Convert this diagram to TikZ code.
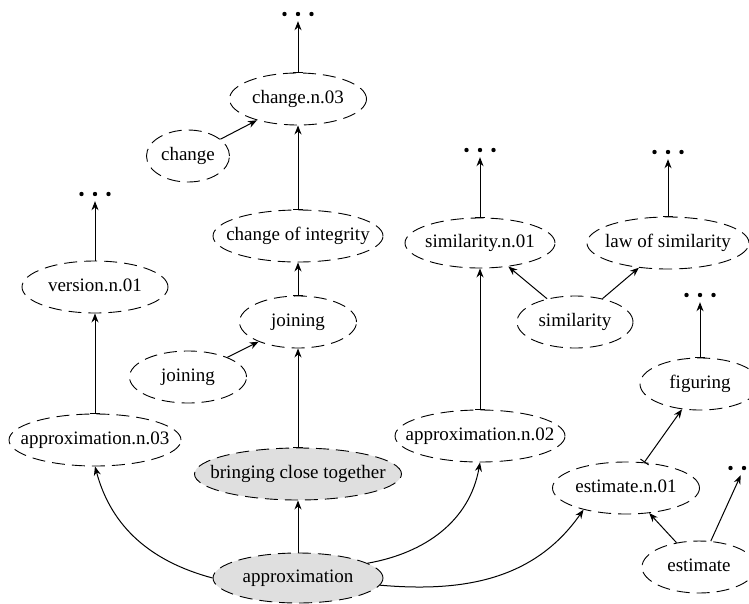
\documentclass[tikz,border=0pt]{standalone}
\usepackage{fontspec}
\setmainfont{Liberation Serif}
\usetikzlibrary{arrows.meta,shapes.geometric}

\begin{document}
\begin{tikzpicture}[x=1pt,y=-1pt,
    font=\fontsize{19}{22}\selectfont,
    sense/.style={ellipse,draw,dash pattern=on 13pt off 7pt,line width=0.9pt,
      inner xsep=-25pt,inner ysep=0pt,text height=13pt,text depth=4pt,minimum height=52pt},
    wsense/.style={sense,fill=gray!25},
    more/.style={inner sep=0pt,minimum width=36pt,minimum height=14pt},
    hyp/.style={{Bar[width=10pt]}-{Stealth[length=9pt,width=7pt]},line width=1pt},
    rel/.style={-{Stealth[length=9pt,width=7pt]},line width=1pt}]
    \useasboundingbox (0,0) rectangle (749,603);

    % Left branch
    \node[more] (m2) at (95,194) {};
    \node[sense,minimum width=146pt] (v01) at (95,287) {version.n.01};
    \node[sense,minimum width=172pt] (a03) at (95,440) {approximation.n.03};

    % Middle branch
    \node[more] (m1) at (298,14) {};
    \node[sense,minimum width=137pt] (c03) at (298,99) {change.n.03};
    \node[sense,minimum width=83pt] (chw) at (188,156) {change};
    \node[sense,minimum width=170pt] (coi) at (298,236) {change of integrity};
    \node[sense,minimum width=117pt] (jn) at (298,322) {joining};
    \node[sense,minimum width=117pt] (jw) at (188,377) {joining};
    \node[wsense,minimum width=207pt] (bct) at (298,474) {bringing close together};
    \node[wsense,minimum width=170pt,minimum height=50pt] (appr) at (298,578) {approximation};

    % Right branch
    \node[more] (m3) at (480,150) {};
    \node[sense,minimum width=150pt,minimum height=50pt] (s01) at (480,243) {similarity.n.01};
    \node[more] (m4) at (668,152) {};
    \node[sense,minimum width=162pt] (los) at (668,243) {law of similarity};
    \node[sense,minimum width=116pt] (sw) at (575,322) {similarity};
    \node[sense,minimum width=170pt] (a02) at (480,436) {approximation.n.02};
    \node[more] (m5) at (700,295) {};
    \node[sense,minimum width=120pt] (fig) at (700,384) {figuring};
    \node[sense,minimum width=147pt] (e01) at (626,488) {estimate.n.01};
    \node[more] (m6) at (744,468) {};
    \node[sense,minimum width=114pt] (ew) at (699,567) {estimate};

    % dots
    \foreach \m in {m1,m2,m3,m4,m5,m6}
      \foreach \dx in {-13.5,0,13.5}
        \fill ([xshift=\dx pt]\m.center) circle (2.2pt);

    \draw[hyp] (c03) -- (m1);
    \draw[rel] (chw) -- (c03);
    \draw[hyp] (coi) -- (c03);
    \draw[hyp] (jn) -- (coi);
    \draw[rel] (jw) -- (jn);
    \draw[hyp] (bct) -- (jn);
    \draw[rel] (appr) -- (bct);

    \draw[rel] (v01) -- (m2);
    \draw[hyp] (a03) -- (v01);

    \draw[hyp] (s01) -- (m3);
    \draw[hyp] (los) -- (m4);
    \draw[rel] (sw) -- (s01);
    \draw[rel] (sw) -- (los);
    \draw[hyp] (a02) -- (s01);
    \draw[hyp] (fig) -- (m5);
    \draw[hyp] (e01) -- (fig);
    \draw[rel] (ew) -- (e01);
    \draw[rel] (ew) -- (m6);

    % curved links from approximation
    \draw[rel] (appr.west) to[out=165,in=-75] (a03.south);
    \draw[rel] (appr.12) to[out=10,in=-100] (a02.south);
    \draw[rel] (appr.-5) to[out=-5,in=-125] (e01.207);
\end{tikzpicture}
\end{document}
